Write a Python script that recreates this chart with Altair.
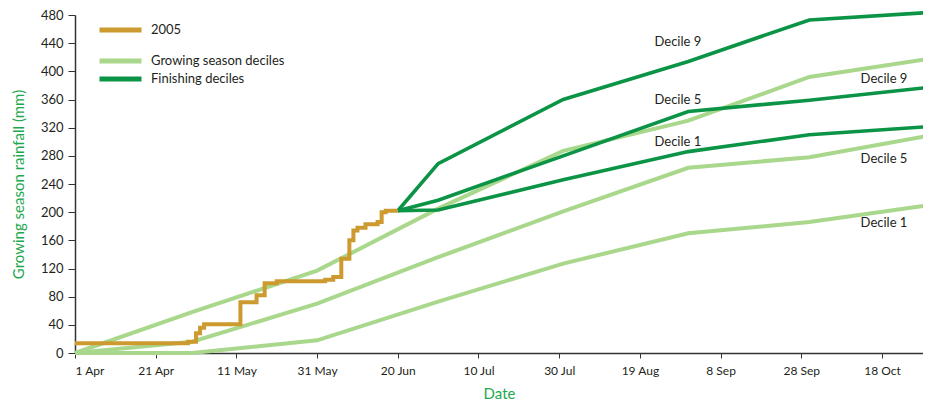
import altair as alt
import pandas as pd

# ---------------- data ----------------
month_ends = ["2005-04-01", "2005-04-30", "2005-05-31", "2005-06-30",
              "2005-07-31", "2005-08-31", "2005-09-30", "2005-10-31"]
growing_d9 = [0, 58, 117, 205, 287, 330, 392, 419]
growing_d5 = [0, 16, 70, 136, 201, 263, 278, 310]
growing_d1 = [0, 0, 18, 73, 127, 170, 186, 211]

finish_dates = ["2005-06-20", "2005-06-30", "2005-07-31", "2005-08-31",
                "2005-09-30", "2005-10-31"]
finish_d9 = [202, 269, 360, 414, 473, 484]
finish_d5 = [202, 217, 280, 343, 359, 378]
finish_d1 = [202, 203, 246, 286, 310, 322]

y2005_dates = ["2005-04-01", "2005-04-29", "2005-05-01", "2005-05-02", "2005-05-03",
               "2005-05-12", "2005-05-16", "2005-05-18", "2005-05-21", "2005-06-02",
               "2005-06-04", "2005-06-06", "2005-06-08", "2005-06-09", "2005-06-10",
               "2005-06-12", "2005-06-15", "2005-06-16", "2005-06-17", "2005-06-20"]
y2005_values = [14, 16, 28, 36, 41, 72, 82, 99, 102, 104,
                108, 134, 160, 174, 178, 183, 186, 200, 202, 202]

label_text = ["Decile 9", "Decile 5", "Decile 1", "Decile 9", "Decile 5", "Decile 1"]
label_date = ["2005-08-28T10:00", "2005-08-28T10:00", "2005-08-28T10:00",
              "2005-10-18T12:00", "2005-10-18T12:00", "2005-10-18T12:00"]
label_value = [442, 359, 300, 389, 276, 184]

tick_dates = ["2005-04-01", "2005-04-21", "2005-05-11", "2005-05-31", "2005-06-20",
              "2005-07-10", "2005-07-30", "2005-08-19", "2005-09-08", "2005-09-28",
              "2005-10-18"]
x_domain = ["2005-04-01", "2005-10-28T04:00"]

# ---------------- tables ----------------
GROW = "Growing season deciles"
FIN = "Finishing deciles"


def ms(s):
    return int(pd.Timestamp(s, tz="UTC").value // 10**6)


rows = []
for name, vals in [("g9", growing_d9), ("g5", growing_d5), ("g1", growing_d1)]:
    for d, v in zip(month_ends, vals):
        rows.append({"date": d, "value": v, "series": name, "kind": GROW})
grow_df = pd.DataFrame(rows)

rows = []
for name, vals in [("f9", finish_d9), ("f5", finish_d5), ("f1", finish_d1)]:
    for d, v in zip(finish_dates, vals):
        rows.append({"date": d, "value": v, "series": name, "kind": FIN})
fin_df = pd.DataFrame(rows)

y05_df = pd.DataFrame({"date": y2005_dates, "value": y2005_values, "kind": "2005"})
lab_df = pd.DataFrame({"date": label_date, "value": label_value, "text": label_text})

# ---------------- styling ----------------
FONT = "Lato"
GOLD = "#cc9a2e"
LIGHT = "#a9d78c"
DARK = "#0b9446"
TITLE_GREEN = "#1ea84e"
INK = "#231f20"

x_enc = alt.X(
    "date:T",
    scale=alt.Scale(type="utc", domain=[ms(x_domain[0]), ms(x_domain[1])], nice=False),
    axis=alt.Axis(
        values=[ms(t) for t in tick_dates],
        format="%-d %b",
        title="Date",
        labelFontSize=12,
        labelPadding=7,
        tickSize=5,
        titlePadding=10,
    ),
)
y_enc = alt.Y(
    "value:Q",
    scale=alt.Scale(domain=[0, 480], nice=False),
    axis=alt.Axis(
        values=list(range(0, 481, 40)),
        title="Growing season rainfall (mm)",
        labelFontSize=13,
        labelPadding=5,
        tickSize=7,
        titlePadding=14,
    ),
)

legend_common = dict(
    orient="none",
    title=None,
    symbolType="stroke",
    symbolSize=1764,
    symbolStrokeWidth=5,
    clipHeight=18,
    rowPadding=0,
    padding=0,
    labelFont=FONT,
    labelFontSize=13,
    labelColor=INK,
    labelOffset=7,
)

grow = alt.Chart(grow_df).mark_line(strokeWidth=4).encode(
    x=x_enc, y=y_enc, detail="series:N",
    color=alt.Color("kind:N",
                    scale=alt.Scale(domain=[GROW, FIN], range=[LIGHT, DARK]),
                    legend=alt.Legend(legendX=22, legendY=37, **legend_common)),
)
fin = alt.Chart(fin_df).mark_line(strokeWidth=3.6).encode(
    x=x_enc, y=y_enc, detail="series:N",
    color=alt.Color("kind:N"),
)
deciles = alt.layer(grow, fin)

y05 = alt.Chart(y05_df).mark_line(strokeWidth=4, interpolate="step-after").encode(
    x=x_enc, y=y_enc,
    color=alt.Color("kind:N",
                    scale=alt.Scale(domain=["2005"], range=[GOLD]),
                    legend=alt.Legend(legendX=22, legendY=6, **legend_common)),
)

labels = alt.Chart(lab_df).mark_text(
    font=FONT, fontSize=13, color=INK, align="center", baseline="middle"
).encode(x=x_enc, y=y_enc, text="text:N")

chart = (
    alt.layer(deciles, y05, labels)
    .resolve_scale(color="independent")
    .properties(
        width=848,
        height=338,
        autosize=alt.AutoSizeParams(type="none"),
        padding={"left": 67, "top": 7, "right": 0, "bottom": 52},
    )
    .configure_view(stroke=None)
    .configure_axis(
        grid=False,
        labelFont=FONT,
        labelColor=INK,
        titleFont=FONT,
        titleFontSize=15,
        titleFontWeight="normal",
        titleColor=TITLE_GREEN,
        domainColor="#333333",
        domainWidth=1.5,
        tickColor="#333333",
        tickWidth=1,
    )
)

chart.save("out.html", embed_options={"renderer": "svg", "actions": False})
